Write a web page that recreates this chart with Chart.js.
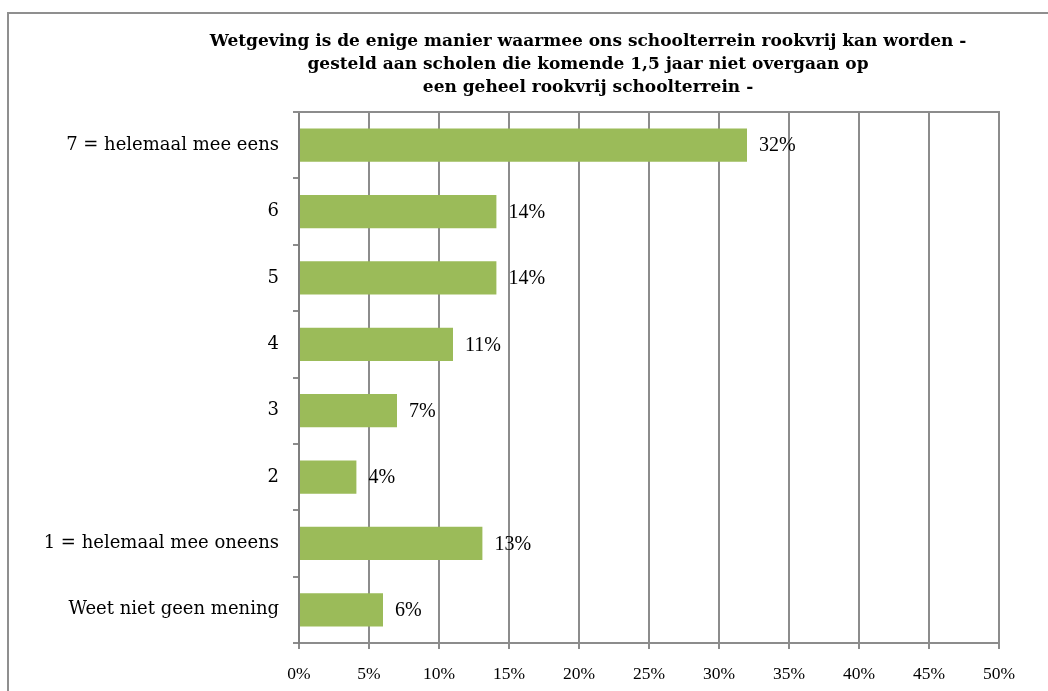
<!DOCTYPE html>
<html>
<head>
<meta charset="utf-8">
<script src="https://cdn.jsdelivr.net/npm/chart.js@4.4.1/dist/chart.umd.min.js"></script>
<style>
  html, body { margin: 0; padding: 0; background: #fff; }
  #wrap { position: relative; width: 1048px; height: 691px; }
</style>
</head>
<body>
<div id="wrap"><canvas id="c" width="1048" height="691"></canvas></div>
<script>
const titleLines = [
  "Wetgeving is de enige manier waarmee ons schoolterrein rookvrij kan worden -",
  "gesteld aan scholen die komende 1,5 jaar niet overgaan op",
  "een geheel rookvrij schoolterrein -"
];
const categories = [
  "7 = helemaal mee eens",
  "6",
  "5",
  "4",
  "3",
  "2",
  "1 = helemaal mee oneens",
  "Weet niet geen mening"
];
const values = [32, 14.1, 14.1, 11, 7, 4.1, 13.1, 6];
const valueLabels = ["32%", "14%", "14%", "11%", "7%", "4%", "13%", "6%"];

const SERIF = "'DejaVu Serif', 'Liberation Serif', serif";
const LSERIF = "'Liberation Serif', 'DejaVu Serif', serif";
const GRID = '#8c8c8c';

const decor = {
  id: 'decor',
  beforeDraw(chart) {
    const ctx = chart.ctx;
    ctx.save();
    ctx.strokeStyle = '#8f8f8f';
    ctx.lineWidth = 2;
    ctx.beginPath();
    ctx.moveTo(8, 691);
    ctx.lineTo(8, 13);
    ctx.lineTo(1048, 13);
    ctx.stroke();
    // title
    ctx.fillStyle = '#000';
    ctx.font = "bold 17px " + SERIF;
    ctx.textAlign = 'center';
    ctx.textBaseline = 'middle';
    titleLines.forEach((t, i) => ctx.fillText(t, 588, 42 + i * 23));
    ctx.restore();
  },
  afterDatasetsDraw(chart) {
    const ctx = chart.ctx;
    const a = chart.chartArea;
    ctx.save();
    ctx.strokeStyle = GRID;
    ctx.lineWidth = 2;
    ctx.beginPath();
    ctx.moveTo(a.left - 6, a.top);
    ctx.lineTo(a.right + 1, a.top);
    ctx.stroke();
    const meta = chart.getDatasetMeta(0);
    ctx.fillStyle = '#000';
    ctx.font = "20px " + LSERIF;
    ctx.textAlign = 'left';
    ctx.textBaseline = 'middle';
    meta.data.forEach((bar, i) => {
      ctx.fillText(valueLabels[i], bar.x + 12, bar.y + 1);
    });
    ctx.restore();
  }
};

new Chart(document.getElementById('c'), {
  type: 'bar',
  data: {
    labels: categories,
    datasets: [{
      data: values,
      backgroundColor: '#9BBB59',
      borderWidth: 0,
      categoryPercentage: 1.0,
      barPercentage: 0.5
    }]
  },
  options: {
    indexAxis: 'y',
    responsive: false,
    animation: false,
    layout: { padding: { left: 25, right: 49, top: 112, bottom: 0 } },
    plugins: {
      legend: { display: false },
      tooltip: { enabled: false },
      title: { display: false }
    },
    scales: {
      x: {
        min: 0,
        max: 50,
        afterFit(s) { s.height = 48; },
        ticks: {
          stepSize: 5,
          color: '#000',
          font: { family: LSERIF, size: 17.5 },
          padding: 15,
          callback: v => v + '%'
        },
        grid: { color: GRID, lineWidth: 2, tickLength: 6, drawTicks: true },
        border: { color: GRID, width: 2 }
      },
      y: {
        afterFit(s) { s.width = 274; },
        ticks: {
          color: '#000',
          font: { family: SERIF, size: 18 },
          padding: 14
        },
        grid: { drawOnChartArea: false, color: GRID, lineWidth: 2, tickLength: 6, offset: true },
        border: { color: '#7f7f7f', width: 2 }
      }
    }
  },
  plugins: [decor]
});
</script>
</body>
</html>
